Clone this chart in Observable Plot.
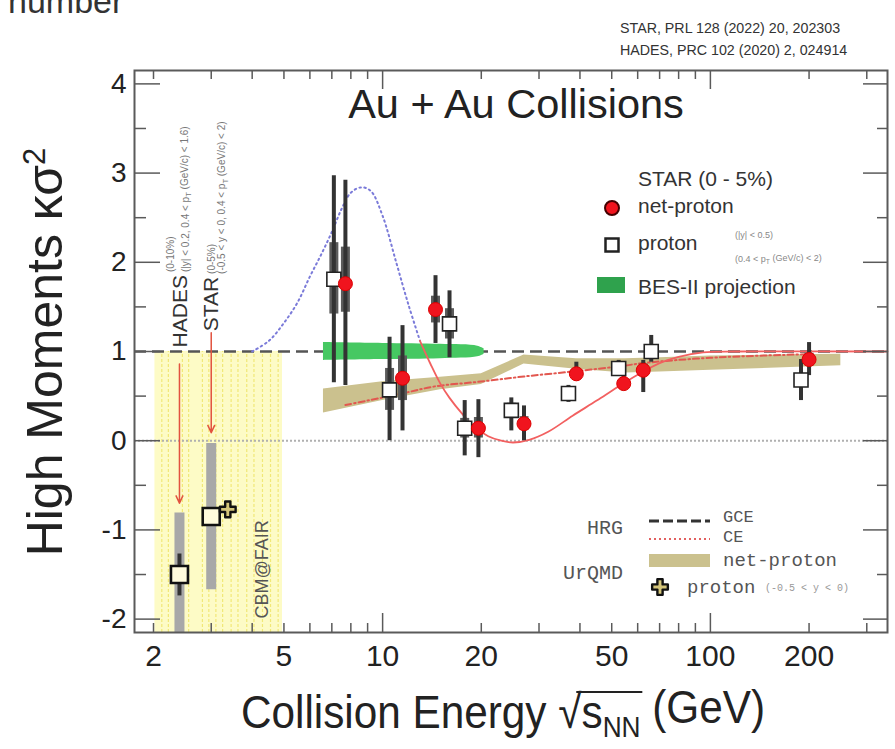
<!DOCTYPE html>
<html>
<head>
<meta charset="utf-8">
<script src="https://cdn.jsdelivr.net/npm/d3@7"></script>
<script src="https://cdn.jsdelivr.net/npm/@observablehq/plot@0.6"></script>
<style>
  html, body { margin: 0; padding: 0; background: #fff; }
  #chart { width: 895px; height: 749px; overflow: hidden; }
</style>
</head>
<body>
<div id="chart"></div>
<script>
// ---------- axes ----------
const xDomain = [1.75, 347];
const yDomain = [-2.15, 4.15];
const xTickLabels = [2, 5, 10, 20, 50, 100, 200];
const xMinorTicks = [2, 3, 4, 5, 6, 7, 8, 9, 20, 30, 40, 50, 60, 70, 80, 90, 200, 300];
const xMajorTicks = [10, 100];
const yMajorTicks = [-2, -1, 0, 1, 2, 3, 4];
const yMinorTicks = [-1.5, -0.5, 0.5, 1.5, 2.5, 3.5];

// ---------- STAR BES-I, 0-5% central: net-proton kappa*sigma^2 ----------
const energies        = [7.7, 11.5, 14.5, 19.6, 27, 39, 54.4, 62.4, 200];
const netProton       = [1.76, 0.70, 1.47, 0.14, 0.19, 0.75, 0.64, 0.79, 0.91];
const netProtonStatLo = [0.62, 0.11, 1.09, -0.19, 0.00, 0.67, 0.56, 0.54, 0.73];
const netProtonStatHi = [2.92, 1.29, 1.85, 0.46, 0.39, 0.88, 0.72, 0.90, 1.10];
const netProtonSysLo  = [1.44, 0.45, 1.32, 0.03, 0.12, 0.70, 0.60, 0.72, 0.84];
const netProtonSysHi  = [2.17, 0.95, 1.62, 0.26, 0.27, 0.80, 0.68, 0.86, 0.98];

// ---------- STAR BES-I, 0-5% central: proton (drawn beside the net-proton points) ----------
const protonEnergies  = [7.1, 10.5, 16.0, 17.8, 24.7, 36.9, 52.5, 66.0, 189];
const proton          = [1.81, 0.57, 1.31, 0.14, 0.34, 0.53, 0.81, 1.00, 0.68];
const protonStatLo    = [0.65, 0.00, 0.93, -0.17, 0.11, 0.43, 0.72, 0.88, 0.45];
const protonStatHi    = [2.97, 1.16, 1.68, 0.45, 0.48, 0.62, 0.90, 1.18, 0.91];
const protonSysLo     = [1.42, 0.34, 1.14, 0.03, 0.26, 0.49, 0.77, 0.94, 0.62];
const protonSysHi     = [2.22, 0.81, 1.48, 0.25, 0.42, 0.57, 0.85, 1.06, 0.74];

// ---------- fixed-target proton points: HADES 2.4 GeV, STAR 3 GeV ----------
const fxtEnergies = [2.4, 3.0];
const fxtValues   = [-1.50, -0.85];
const fxtStatLo   = [-1.74, -0.94];
const fxtStatHi   = [-1.27, -0.76];
const fxtSysLo    = [-2.15, -1.67];
const fxtSysHi    = [-0.81, -0.03];

// UrQMD proton at 3 GeV
const urqmdProtonE = [3.37];
const urqmdProton  = [-0.77];

// arrows from the experiment labels down to their points
const arrowE    = [2.4, 3.0];
const arrowFrom = [0.86, 1.21];
const arrowTo   = [-0.70, 0.09];

// ---------- model curves and bands ----------
// UrQMD net-proton band
const urqmdE  = [6.6, 10, 15, 20, 27, 39, 55, 70, 100, 250];
const urqmdLo = [0.31, 0.45, 0.57, 0.63, 0.86, 0.80, 0.76, 0.77, 0.79, 0.84];
const urqmdHi = [0.58, 0.66, 0.71, 0.75, 0.96, 0.92, 0.92, 0.93, 0.95, 0.97];
// HRG canonical ensemble
const ceE = [7.7, 9, 11.5, 14.5, 19.6, 27, 39, 54.4, 62.4, 100, 200];
const ce  = [0.40, 0.45, 0.53, 0.61, 0.66, 0.72, 0.78, 0.84, 0.87, 0.93, 0.97];
// HRG grand canonical ensemble
const gce = [1];
// BES-II projection band
const besE  = [6.6, 10, 15, 19.5, 20.4];
const besLo = [0.90, 0.91, 0.92, 0.94, 0.97];
const besHi = [1.10, 1.09, 1.08, 1.06, 1.03];
// expected critical-point signal: rising part (dotted) and oscillation (solid)
const critRiseE = [4.0, 4.5, 5.0, 5.5, 6.0, 6.5, 7.0, 7.5, 8.0, 8.6, 9.2, 10.0, 11.0, 12.0, 13.0];
const critRise  = [1.00, 1.12, 1.32, 1.55, 1.84, 2.09, 2.34, 2.60, 2.78, 2.84, 2.80, 2.52, 2.00, 1.52, 1.12];
const critDipE  = [13, 14, 15, 16, 17.5, 19, 21, 23, 25, 28, 32, 38, 45, 52, 60, 70, 80, 95, 120, 347];
const critDip   = [1.12, 0.86, 0.64, 0.48, 0.30, 0.16, 0.05, 0.00, -0.02, 0.01, 0.10, 0.28, 0.45, 0.60, 0.74, 0.87, 0.94, 0.99, 1.00, 1.00];

// CBM@FAIR energy range
const cbmRange = [2.02, 4.95];
const cbmTop = 1.0;
const cbmStripes = [2.12, 2.22, 2.45, 2.56, 2.82, 2.95, 3.1, 3.25, 3.45, 3.62, 3.85, 4.05, 4.3, 4.55, 4.8];

// ---------- tables for the marks ----------
const rowsNet = energies.map((E, i) => ({E, v: netProton[i], statLo: netProtonStatLo[i], statHi: netProtonStatHi[i], sysLo: netProtonSysLo[i], sysHi: netProtonSysHi[i]}));
const rowsProton = protonEnergies.map((E, i) => ({E, v: proton[i], statLo: protonStatLo[i], statHi: protonStatHi[i], sysLo: protonSysLo[i], sysHi: protonSysHi[i]}));
const rowsFxt = fxtEnergies.map((E, i) => ({E, v: fxtValues[i], statLo: fxtStatLo[i], statHi: fxtStatHi[i], sysLo: fxtSysLo[i], sysHi: fxtSysHi[i]}));
const rowsUrqmdP = urqmdProtonE.map((E, i) => ({E, v: urqmdProton[i]}));
const rowsArrows = arrowE.map((E, i) => ({E, from: arrowFrom[i], to: arrowTo[i]}));
const rowsUrqmd = urqmdE.map((E, i) => ({E, lo: urqmdLo[i], hi: urqmdHi[i]}));
const rowsCe = ceE.map((E, i) => ({E, v: ce[i]}));
const rowsBes = besE.map((E, i) => ({E, lo: besLo[i], hi: besHi[i]}));
const rowsRise = critRiseE.map((E, i) => ({E, v: critRise[i]}));
const rowsDip = critDipE.map((E, i) => ({E, v: critDip[i]}));

// four-armed marker used for the UrQMD proton point
const plusMarker = {
  draw(context, size) {
    const w = Math.sqrt(size / 5), a = w / 2, b = 1.5 * w;
    context.moveTo(-a, -b); context.lineTo(a, -b); context.lineTo(a, -a);
    context.lineTo(b, -a); context.lineTo(b, a); context.lineTo(a, a);
    context.lineTo(a, b); context.lineTo(-a, b); context.lineTo(-a, a);
    context.lineTo(-b, a); context.lineTo(-b, -a); context.lineTo(-a, -a);
    context.closePath();
  }
};

const W = 895, H = 749, mL = 134, mR = 8, mT = 70, mB = 117;
const fw = W - mL - mR, fh = H - mT - mB;
const sans = "Arial, 'Liberation Sans', Helvetica, sans-serif";
const mono = "'Courier New', 'Liberation Mono', monospace";
const frameColor = "#5a5a5a";

const chart = Plot.plot({
  width: W, height: H,
  marginLeft: mL, marginRight: mR, marginTop: mT, marginBottom: mB,
  style: {fontFamily: sans, background: "#fff", color: "#222", overflow: "visible"},
  x: {type: "log", domain: xDomain},
  y: {domain: yDomain},
  marks: [
    // CBM@FAIR range
    Plot.rect([cbmRange], {x1: d => d[0], x2: d => d[1], y1: yDomain[0], y2: cbmTop, fill: "#fdfbc6"}),
    Plot.ruleX(cbmStripes, {y1: yDomain[0], y2: cbmTop, stroke: "#f1e877", strokeWidth: 1.2, strokeDasharray: "3,2"}),
    // zero line
    Plot.ruleY([0], {stroke: "#b0b0b0", strokeWidth: 2, strokeDasharray: "2,2"}),
    // UrQMD net-proton band
    Plot.areaY(rowsUrqmd, {x: "E", y1: "lo", y2: "hi", fill: "#cbc18e"}),
    // HRG CE
    Plot.line(rowsCe, {x: "E", y: "v", stroke: "#e2574f", strokeWidth: 2, strokeDasharray: "6,3,1.5,3", curve: "catmull-rom"}),
    // HRG GCE
    Plot.ruleY(gce, {stroke: "#555", strokeWidth: 2.4, strokeDasharray: "12,6"}),
    // BES-II projection
    Plot.areaY(rowsBes, {x: "E", y1: "lo", y2: "hi", fill: "#46c862", curve: "catmull-rom"}),
    // critical-point expectation
    Plot.line(rowsRise, {x: "E", y: "v", stroke: "#7b7bd9", strokeWidth: 2, strokeDasharray: "1.5,3.5", strokeLinecap: "round", curve: "catmull-rom"}),
    Plot.line(rowsDip, {x: "E", y: "v", stroke: "#f26060", strokeWidth: 1.8, curve: "catmull-rom"}),
    // arrows
    Plot.arrow(rowsArrows, {x1: "E", x2: "E", y1: "from", y2: "to", stroke: "#e2533f", strokeWidth: 1.5, headLength: 8, headAngle: 50}),
    // fixed-target errors
    Plot.ruleX(rowsFxt, {x: "E", y1: "sysLo", y2: "sysHi", stroke: "#a8a8a8", strokeWidth: 10}),
    Plot.ruleX(rowsFxt, {x: "E", y1: "statLo", y2: "statHi", stroke: "#333", strokeWidth: 4}),
    // STAR errors
    Plot.ruleX(rowsProton, {x: "E", y1: "sysLo", y2: "sysHi", stroke: "#5c5c5c", strokeWidth: 9}),
    Plot.ruleX(rowsNet, {x: "E", y1: "sysLo", y2: "sysHi", stroke: "#5c5c5c", strokeWidth: 9}),
    Plot.ruleX(rowsProton, {x: "E", y1: "statLo", y2: "statHi", stroke: "#333", strokeWidth: 4}),
    Plot.ruleX(rowsNet, {x: "E", y1: "statLo", y2: "statHi", stroke: "#333", strokeWidth: 4}),
    // points
    Plot.dot(rowsFxt, {x: "E", y: "v", symbol: "square", r: 9.6, fill: "#fffbdc", stroke: "#111", strokeWidth: 2.6}),
    Plot.dot(rowsUrqmdP, {x: "E", y: "v", symbol: plusMarker, r: 6.6, fill: "#d4c57a", stroke: "#111", strokeWidth: 2.4, strokeLinejoin: "round"}),
    Plot.dot(rowsProton, {x: "E", y: "v", symbol: "square", r: 7.9, fill: "#fff", stroke: "#222", strokeWidth: 1.6}),
    Plot.dot(rowsNet, {x: "E", y: "v", r: 7, fill: "#f0141e", stroke: "#d00", strokeWidth: 1}),
    // frame and inward ticks
    Plot.frame({stroke: frameColor, strokeWidth: 2}),
    Plot.tickX(xMinorTicks, {stroke: frameColor, strokeWidth: 1.5, insetTop: fh - 9}),
    Plot.tickX(xMajorTicks, {stroke: frameColor, strokeWidth: 1.5, insetTop: fh - 19}),
    Plot.tickX(xMinorTicks, {stroke: frameColor, strokeWidth: 1.5, insetBottom: fh - 9}),
    Plot.tickX(xMajorTicks, {stroke: frameColor, strokeWidth: 1.5, insetBottom: fh - 19}),
    Plot.tickY(yMinorTicks, {stroke: frameColor, strokeWidth: 1.5, insetRight: fw - 12}),
    Plot.tickY(yMajorTicks, {stroke: frameColor, strokeWidth: 1.5, insetRight: fw - 26}),
    Plot.tickY(yMinorTicks, {stroke: frameColor, strokeWidth: 1.5, insetLeft: fw - 10}),
    Plot.tickY(yMajorTicks, {stroke: frameColor, strokeWidth: 1.5, insetLeft: fw - 24}),
    // tick labels
    Plot.axisX({ticks: xTickLabels, tickSize: 0, tickPadding: 12, fontSize: 30, tickFormat: d => String(d), label: null, fill: "#222"}),
    Plot.axisY({ticks: yMajorTicks, tickSize: 0, tickPadding: 8, fontSize: 28, tickFormat: d => d < 0 ? "-" + Math.abs(d) : String(d), label: null, fill: "#222"})
  ]
});

document.getElementById("chart").appendChild(chart);

// ---------- annotations ----------
const svg = d3.select(chart);
const X = chart.scale("x"), Y = chart.scale("y");
const px = v => X.apply(v), py = v => Y.apply(v);
const notes = svg.append("g").attr("font-family", sans);

function label(parent, t, x, y, o = {}) {
  const el = parent.append("text")
    .attr("transform", `translate(${x},${y})` + (o.rotate ? ` rotate(${o.rotate})` : "") + (o.sx ? ` scale(${o.sx},1)` : ""))
    .attr("font-size", o.size || 12)
    .attr("fill", o.fill || "#222")
    .attr("text-anchor", o.anchor || "start");
  if (o.family) el.attr("font-family", o.family);
  if (o.dy) el.attr("dy", o.dy);
  if (Array.isArray(t)) {
    t.forEach(part => {
      const s = el.append("tspan").text(part.t);
      if (part.dy) s.attr("dy", part.dy);
      if (part.size) s.attr("font-size", part.size);
    });
  } else el.text(t);
  return el;
}
// text with a subscript T after "p"
const pT = (pre, post) => [{t: pre + "p"}, {t: "T", dy: "0.3em", size: "75%"}, {t: post, dy: "-0.3em"}];

// slide header remnant and references
label(notes, "number", 8, 13, {size: 34, fill: "#333"});
label(notes, "STAR, PRL 128 (2022) 20, 202303", 620, 33, {size: 15.5, fill: "#333", sx: 0.92});
label(notes, "HADES, PRC 102 (2020) 2, 024914", 620, 55, {size: 15.5, fill: "#333", sx: 0.92});

// panel title
label(notes, "Au + Au Collisions", 516, 118, {size: 41.5, anchor: "middle", fill: "#222"});

// axis titles
label(notes, [{t: "High Moments κσ"}, {t: "2", dy: "-0.55em", size: "62%"}], 62, 352, {size: 50, rotate: -90, anchor: "middle", fill: "#222"});
const xtG = notes.append("g").attr("transform", "translate(503,728) scale(0.9,1)");
const xt = xtG.append("text").attr("font-size", 47).attr("fill", "#222").attr("text-anchor", "middle");
xt.append("tspan").text("Collision Energy ");
xt.append("tspan").text("√");
xt.append("tspan").text("s");
xt.append("tspan").attr("dy", "0.3em").attr("font-size", "62%").text("NN");
xt.append("tspan").attr("dy", "-0.3em").text(" (GeV)");
{
  // bar of the square root over s_NN
  const txt = xt.node();
  const i0 = "Collision Energy √".length, i1 = i0 + 3;
  const a = txt.getStartPositionOfChar(i0 - 1), b = txt.getEndPositionOfChar(i1 - 1);
  xtG.append("line").attr("x1", a.x + 20).attr("x2", b.x + 2).attr("y1", -36).attr("y2", -36)
    .attr("stroke", "#222").attr("stroke-width", 2.2);
}

// experiment labels (rotated)
const hadesX = px(fxtEnergies[0]), starX = px(fxtEnergies[1]);
const hades = label(notes, "HADES", hadesX, py(1.04), {size: 21, rotate: -90, dy: "0.36em", fill: "#333"});
const hLen = hades.node().getComputedTextLength();
label(notes, "(0-10%)", hadesX - 9, py(1.04) - hLen - 3, {size: 10, rotate: -90, dy: "0.36em", fill: "#777"});
label(notes, pT("(|y| < 0.2, 0.4 < ", " (GeV/c) < 1.6)"), hadesX + 6, py(1.04) - hLen - 3, {size: 10, rotate: -90, dy: "0.36em", fill: "#777"});
const star = label(notes, "STAR", starX, py(1.22), {size: 21, rotate: -90, dy: "0.36em", fill: "#333"});
const sLen = star.node().getComputedTextLength();
label(notes, "(0-5%)", starX + 1, py(1.22) - sLen - 3, {size: 10, rotate: -90, dy: "0.36em", fill: "#777"});
label(notes, pT("(-0.5 < y < 0, 0.4 < ", " (GeV/c) < 2)"), starX + 11, py(1.22) - sLen - 3, {size: 10, rotate: -90, dy: "0.36em", fill: "#777"});
label(notes, "CBM@FAIR", px(4.3), py(-2.0), {size: 18, rotate: -90, dy: "0.36em", fill: "#555"});

// STAR legend
const lg = notes.append("g");
label(lg, "STAR (0 - 5%)", 638, 186, {size: 21, fill: "#333"});
lg.append("circle").attr("cx", 612).attr("cy", 208).attr("r", 7).attr("fill", "#f0141e").attr("stroke", "#400").attr("stroke-width", 2);
label(lg, "net-proton", 638, 213, {size: 21, fill: "#333"});
lg.append("rect").attr("x", 605.5).attr("y", 238.5).attr("width", 13).attr("height", 13).attr("fill", "#fff").attr("stroke", "#222").attr("stroke-width", 2.5);
label(lg, "proton", 638, 250, {size: 21, fill: "#333"});
label(lg, "(|y| < 0.5)", 735, 238, {size: 9, fill: "#888"});
label(lg, pT("(0.4 < ", " (GeV/c) < 2)"), 735, 262, {size: 9, fill: "#888"});
lg.append("rect").attr("x", 597).attr("y", 277).attr("width", 28).attr("height", 16).attr("fill", "#2fa24d");
label(lg, "BES-II projection", 638, 294, {size: 21, fill: "#333"});

// model legend
const mg = notes.append("g").attr("font-family", mono);
label(mg, "HRG", 623, 534, {size: 20, anchor: "end", fill: "#555", family: mono});
mg.append("line").attr("x1", 649).attr("x2", 710).attr("y1", 521).attr("y2", 521).attr("stroke", "#333").attr("stroke-width", 3).attr("stroke-dasharray", "10,4");
label(mg, "GCE", 723, 522, {size: 17, fill: "#555", family: mono});
mg.append("line").attr("x1", 649).attr("x2", 710).attr("y1", 539).attr("y2", 539).attr("stroke", "#e26060").attr("stroke-width", 2).attr("stroke-dasharray", "2,3");
label(mg, "CE", 723, 542, {size: 17, fill: "#555", family: mono});
mg.append("rect").attr("x", 649).attr("y", 554).attr("width", 61).attr("height", 13).attr("fill", "#cbc18e");
label(mg, "net-proton", 723, 566, {size: 19, fill: "#555", family: mono});
label(mg, "UrQMD", 623, 579, {size: 20, anchor: "end", fill: "#555", family: mono});
mg.append("path").attr("transform", "translate(660,587)").attr("d", d3.symbol(plusMarker, Math.PI * 6.6 * 6.6)())
  .attr("fill", "#d4c57a").attr("stroke", "#111").attr("stroke-width", 2.4).attr("stroke-linejoin", "round");
label(mg, "proton", 687, 593, {size: 19, fill: "#555", family: mono});
label(mg, "(-0.5 < y < 0)", 765, 591, {size: 10, fill: "#999", family: mono});
</script>
</body>
</html>
